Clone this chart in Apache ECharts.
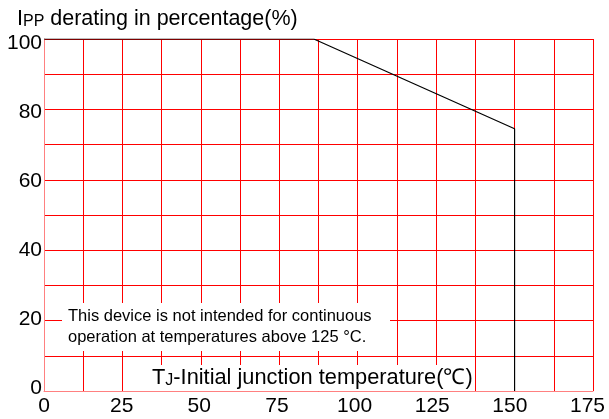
<!DOCTYPE html>
<html>
<head>
<meta charset="utf-8">
<script src="https://cdn.jsdelivr.net/npm/echarts@6/dist/echarts.min.js"></script>
<style>
html,body{margin:0;padding:0;background:#fff;}
#c{width:609px;height:419px;}
</style>
</head>
<body>
<div id="c"></div>
<script>
// Data
var curveX = [0, 86, 150, 150];
var curveY = [100, 100, 74.5, 0];
var xTicks = [0, 25, 50, 75, 100, 125, 150, 175];
var yTicks = [0, 20, 40, 60, 80, 100];
var titleMain = ' derating in percentage(%)';
var xTitle = '-Initial junction temperature(\u2103)';
var noteLines = ['This device is not intended for continuous', 'operation at temperatures above 125 \u00B0C.'];

var FF = '"Liberation Sans", Arial, sans-serif';
var chart = echarts.init(document.getElementById('c'), null, {renderer: 'canvas'});
var pts = curveX.map(function (x, i) { return [x, curveY[i]]; });

function pick(list) {
  return function (v) {
    for (var i = 0; i < list.length; i++) { if (Math.abs(list[i] - v) < 1e-6) return String(list[i]); }
    return '';
  };
}

chart.setOption({
  backgroundColor: '#fff',
  animation: false,
  textStyle: {fontFamily: FF},
  title: {
    left: 12, top: 3,
    text: '{a|I}{b|PP}{a|' + titleMain + '}',
    textStyle: {
      fontWeight: 'normal',
      rich: {
        a: {fontSize: 21.5, color: '#000', fontFamily: FF, fontWeight: 'normal'},
        b: {fontSize: 16, color: '#000', fontFamily: FF, fontWeight: 'normal', verticalAlign: 'bottom'}
      }
    }
  },
  grid: {left: 44, right: 16, top: 39, bottom: 28, containLabel: false},
  xAxis: [{
    type: 'value', min: 0, max: 175, interval: 12.5,
    axisLine: {show: true, lineStyle: {color: '#ff8080', width: 1}},
    axisTick: {show: false},
    axisLabel: {show: false},
    splitLine: {show: true, lineStyle: {color: '#ff0000', width: 1}}
  }, {
    type: 'value', min: 0, max: 176.77, interval: 25, position: 'bottom',
    axisLine: {show: false}, axisTick: {show: false}, splitLine: {show: false},
    axisLabel: {color: '#000', fontSize: 21, margin: 5, fontFamily: FF, formatter: pick(xTicks)}
  }],
  yAxis: [{
    type: 'value', min: 0, max: 100, interval: 10,
    axisLine: {show: true, lineStyle: {color: '#ff8080', width: 1}},
    axisTick: {show: false},
    axisLabel: {show: false},
    splitLine: {show: true, lineStyle: {color: '#ff0000', width: 1}}
  }, {
    type: 'value', min: -0.78, max: 101.16, splitNumber: 5, minInterval: 20, maxInterval: 20,
    position: 'left',
    axisLine: {show: false}, axisTick: {show: false}, splitLine: {show: false},
    axisLabel: {color: '#000', fontSize: 21, margin: 2, fontFamily: FF, formatter: pick(yTicks)}
  }],
  graphic: [
    {
      type: 'rect', z: 100, left: 62, top: 303,
      shape: {width: 328, height: 48},
      style: {fill: '#fff'}
    },
    {
      type: 'text', z: 101, left: 68, top: 306,
      style: {
        text: noteLines.join('\n'),
        font: '16.5px ' + FF, fill: '#000', lineHeight: 21
      }
    },
    {
      type: 'rect', z: 100, left: 145, top: 365,
      shape: {width: 328, height: 26},
      style: {fill: '#fff'}
    },
    {
      type: 'text', z: 101, left: 152, top: 367,
      style: {
        text: '{a|T}{b|J}{a|' + xTitle + '}',
        rich: {
          a: {fontSize: 21.8, fontFamily: FF, fill: '#000'},
          b: {fontSize: 16, fontFamily: FF, fill: '#000', verticalAlign: 'bottom'}
        }
      }
    }
  ],
  series: [{
    type: 'line',
    xAxisIndex: 0, yAxisIndex: 0,
    data: pts,
    symbol: 'none',
    z: 10,
    lineStyle: {color: '#000', width: 1.2}
  }]
});
</script>
</body>
</html>
